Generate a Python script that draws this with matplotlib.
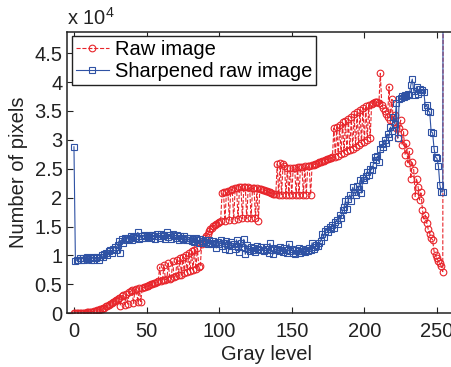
import numpy as np
import matplotlib
matplotlib.use("Agg")
import matplotlib.pyplot as plt
from matplotlib.ticker import FuncFormatter

plt.rcParams['font.family'] = ['Liberation Sans', 'DejaVu Sans']
plt.rcParams['mathtext.fontset'] = 'custom'
plt.rcParams['mathtext.rm'] = 'Liberation Sans'
plt.rcParams['font.size'] = 14.5

# histogram counts, in units of 1e4 pixels, gray levels 0..255
raw = [
    0.00, 0.00, 0.00, 0.00, 0.00, 0.01, 0.01, 0.01, 0.01, 0.02,
    0.02, 0.02, 0.03, 0.03, 0.04, 0.04, 0.05, 0.06, 0.07, 0.08,
    0.09, 0.10, 0.12, 0.13, 0.15, 0.16, 0.18, 0.20, 0.21, 0.23,
    0.25, 0.27, 0.13, 0.30, 0.32, 0.15, 0.34, 0.16, 0.36, 0.38,
    0.40, 0.17, 0.41, 0.42, 0.19, 0.43, 0.20, 0.44, 0.45, 0.46,
    0.47, 0.48, 0.49, 0.50, 0.51, 0.52, 0.53, 0.54, 0.55, 0.80,
    0.56, 0.57, 0.84, 0.58, 0.59, 0.87, 0.60, 0.61, 0.90, 0.62,
    0.64, 0.93, 0.66, 0.96, 0.67, 0.98, 0.69, 1.01, 0.71, 1.04,
    0.73, 1.07, 0.75, 1.10, 0.77, 1.13, 0.80, 0.82, 1.20, 1.25,
    1.30, 1.34, 1.38, 1.42, 1.45, 1.48, 1.51, 1.53, 1.55, 1.57,
    1.58, 1.59, 2.08, 2.09, 1.60, 2.10, 2.12, 1.61, 2.14, 2.15,
    1.62, 2.16, 2.17, 1.63, 2.18, 2.18, 1.64, 2.19, 2.18, 1.64,
    2.18, 2.17, 1.65, 2.17, 2.16, 1.65, 2.16, 1.60, 2.15, 2.15,
    2.14, 2.13, 2.12, 2.11, 2.10, 2.09, 2.08, 2.07, 2.07, 2.06,
    2.58, 2.05, 2.60, 2.05, 2.58, 2.55, 2.05, 2.52, 2.04, 2.52,
    2.04, 2.52, 2.52, 2.04, 2.53, 2.04, 2.53, 2.53, 2.04, 2.54,
    2.05, 2.54, 2.55, 2.05, 2.56, 2.57, 2.58, 2.59, 2.60, 2.61,
    2.62, 2.63, 2.64, 2.65, 2.66, 2.67, 2.68, 2.69, 2.70, 3.20,
    2.70, 3.22, 2.72, 3.25, 2.75, 3.30, 2.77, 3.33, 2.80, 3.36,
    2.82, 3.40, 2.85, 3.44, 2.88, 3.48, 2.91, 3.52, 2.94, 3.55,
    2.97, 3.58, 3.00, 3.60, 3.03, 3.62, 3.64, 3.66, 3.66, 3.65,
    3.63, 4.15, 3.60, 3.55, 3.50, 3.45, 3.40, 3.92, 3.35, 3.70,
    3.30, 3.43, 3.20, 3.03, 3.20, 3.34, 2.91, 3.14, 2.74, 2.94,
    2.60, 2.80, 2.33, 2.62, 2.48, 2.02, 2.33, 2.19, 1.96, 2.10,
    1.79, 1.63, 1.70, 1.56, 1.45, 1.38, 1.30, 1.27, 1.07, 1.00,
    0.95, 0.90, 0.87, 0.81, 0.72, 20.0,
]

sharpened = [
    2.88, 0.90, 0.93, 0.92, 0.95, 0.93, 0.96, 0.92, 0.95, 0.97,
    0.94, 0.96, 0.93, 0.97, 0.92, 0.95, 0.98, 0.93, 0.97, 1.00,
    0.98, 1.02, 1.05, 1.00, 1.07, 1.10, 1.05, 1.12, 1.15, 1.10,
    1.18, 1.25, 1.04, 1.28, 1.22, 1.30, 1.26, 1.31, 1.28, 1.33,
    1.27, 1.32, 1.30, 1.34, 1.40, 1.29, 1.33, 1.31, 1.35, 1.30,
    1.34, 1.32, 1.36, 1.30, 1.35, 1.33, 1.28, 1.37, 1.34, 1.31,
    1.38, 1.33, 1.36, 1.29, 1.40, 1.32, 1.35, 1.28, 1.37, 1.33,
    1.30, 1.36, 1.27, 1.34, 1.31, 1.28, 1.33, 1.26, 1.30, 1.27,
    1.31, 1.25, 1.28, 1.24, 1.30, 1.26, 1.22, 1.28, 1.25, 1.21,
    1.27, 1.23, 1.20, 1.26, 1.22, 1.19, 1.25, 1.21, 1.13, 1.24,
    1.20, 1.26, 1.16, 1.22, 1.12, 1.25, 1.18, 1.10, 1.24, 1.16,
    1.20, 1.12, 1.27, 1.15, 1.06, 1.22, 1.14, 1.28, 1.02, 1.18,
    1.12, 1.08, 1.15, 1.10, 1.13, 1.06, 1.16, 1.11, 1.09, 1.14,
    1.10, 1.07, 1.15, 1.12, 1.05, 1.21, 1.10, 1.02, 1.13, 1.09,
    1.12, 1.07, 1.15, 1.10, 1.06, 1.13, 1.09, 1.04, 1.20, 1.08,
    1.12, 1.05, 1.02, 1.10, 1.07, 1.13, 1.04, 1.08, 1.11, 1.06,
    1.10, 1.07, 1.13, 1.09, 1.22, 1.12, 1.15, 1.18, 1.16, 1.22,
    1.25, 1.38, 1.32, 1.42, 1.45, 1.40, 1.50, 1.45, 1.52, 1.48,
    1.58, 1.62, 1.55, 1.70, 1.65, 1.78, 1.84, 1.95, 1.80, 1.98,
    2.05, 1.95, 2.18, 2.10, 2.05, 2.20, 2.15, 2.30, 2.08, 2.34,
    2.30, 2.38, 2.45, 2.40, 2.50, 2.48, 2.56, 2.70, 2.65, 2.72,
    2.62, 2.85, 2.92, 2.88, 3.00, 2.95, 3.10, 3.05, 3.22, 3.15,
    3.40, 3.27, 3.63, 3.03, 3.70, 3.72, 3.75, 3.74, 3.78, 3.76,
    3.80, 3.78, 3.95, 4.05, 3.85, 3.78, 3.92, 3.80, 3.88, 3.83,
    3.86, 3.82, 3.57, 3.60, 3.50, 3.48, 3.14, 3.12, 2.85, 2.70,
    2.68, 2.55, 2.22, 2.10, 2.10, 20.0,
]

gray = np.arange(256)
raw = np.array(raw) * 1e4
sharpened = np.array(sharpened) * 1e4

red = '#e8252b'
blue = '#2f52a4'

W, H = 452, 367
fig = plt.figure(figsize=(W / 100, H / 100), dpi=100)
ax = fig.add_axes([66.7 / W, (H - 313.3) / H, (466 - 66.7) / W, (313.3 - 31.7) / H])

ax.plot(gray, raw, '--o', color=red, lw=0.8, ms=4.8, mfc='none', mew=0.8,
        label='Raw image')
ax.plot(gray, sharpened, '-s', color=blue, lw=0.8, ms=4.2, mfc='none', mew=0.8,
        label='Sharpened raw image')

ax.set_xlim(-5, 270)
ax.set_ylim(0, 4.87e4)
ax.set_xticks(np.arange(0, 251, 50))
ax.set_yticks(np.arange(0, 4.6e4, 0.5e4))
ax.yaxis.set_major_formatter(FuncFormatter(lambda v, p: '%g' % (v / 1e4)))
ax.tick_params(direction='in', length=4, width=0.8, top=True, right=True,
               colors='#222222', labelcolor='#222222')
ax.tick_params(axis='x', pad=6)
ax.tick_params(axis='y', pad=3)
for sp in ax.spines.values():
    sp.set_linewidth(1.1)
    sp.set_color('#222222')

ax.set_xlabel('Gray level', color='#222222')
ax.set_ylabel('Number of pixels', color='#222222')
ax.yaxis.set_label_coords(-0.096, 0.5)
ax.xaxis.set_label_coords((266.3 - 66.7) / (466 - 66.7), -0.113)

fig.text(66.7 / W, 1 - 25 / H, r'x 10$^{\mathrm{4}}$', ha='left', va='baseline',
         color='#222222')

leg = ax.legend(loc='upper left', bbox_to_anchor=(5.6 / 399.3, 1 - 4.3 / 281.6),
                borderaxespad=0, fancybox=False, framealpha=1, edgecolor='#222222',
                handlelength=1.6, handletextpad=0.3, borderpad=0.2, labelspacing=0.15)
leg.get_frame().set_linewidth(1.0)

fig.savefig('out.png', dpi=100)
